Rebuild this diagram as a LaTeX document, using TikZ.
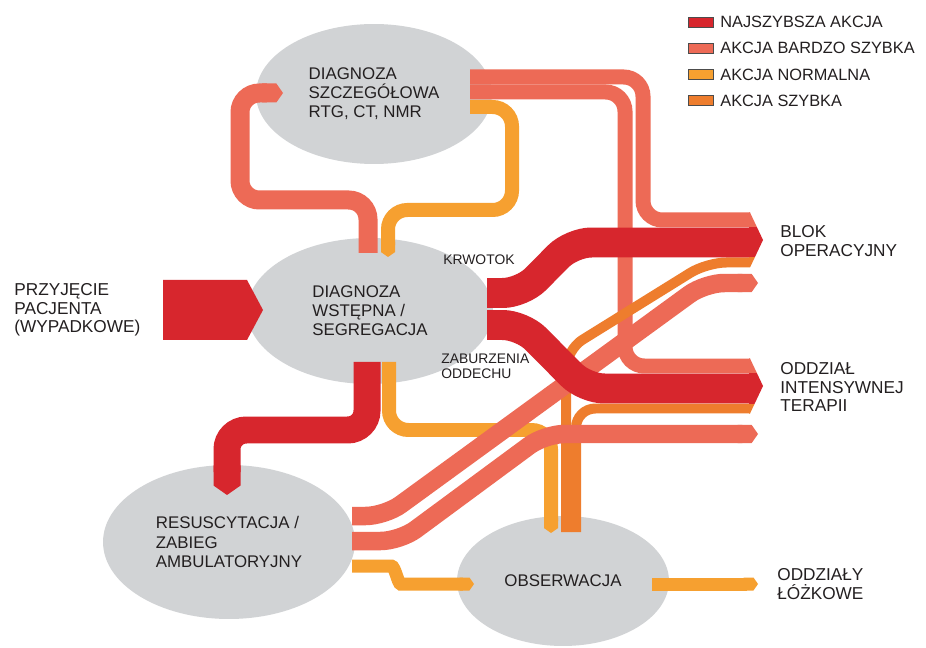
\documentclass[tikz,border=0pt]{standalone}
\usepackage{fontspec}
\setmainfont{Liberation Sans}
\usetikzlibrary{arrows.meta,shapes.geometric}

\definecolor{cRed}{RGB}{215,38,45}
\definecolor{cSalmon}{RGB}{237,106,86}
\definecolor{cNorm}{RGB}{246,160,48}
\definecolor{cFast}{RGB}{238,125,45}
\definecolor{cZone}{RGB}{209,211,213}
\definecolor{cText}{RGB}{35,31,32}

\begin{document}
\begin{tikzpicture}[x=0.02cm, y=-0.02cm,
	zone/.style={ellipse, fill=cZone, inner sep=0pt, align=left, text=cText, font=\fontsize{9.6}{10.9}\selectfont},
	lbl/.style={anchor=west, align=left, inner sep=0pt, text=cText, font=\fontsize{9.8}{10.4}\selectfont},
	small/.style={anchor=west, align=left, inner sep=0pt, text=cText, font=\fontsize{7.9}{8.6}\selectfont},
	flow/.style={draw=#1, rounded corners=11pt},
	headed/.style={-{Triangle Cap[length=0pt 0.35]}}]
	\fill[white] (0,0) rectangle (926,648);
	\useasboundingbox (0,0) rectangle (926,648);

	% zones
	\node[zone, minimum width=4.72cm, minimum height=2.8cm] (szcz) at (374,94) {DIAGNOZA\\SZCZEGÓŁOWA\\RTG, CT, NMR};
	\node[zone, minimum width=4.92cm, minimum height=2.92cm] (wst) at (370,311) {DIAGNOZA\\WSTĘPNA /\\SEGREGACJA};
	\node[zone, minimum width=5.04cm, minimum height=3.08cm] (resus) at (229,542) {RESUSCYTACJA /\\ZABIEG\\AMBULATORYJNY};
	\node[zone, minimum width=4.24cm, minimum height=2.6cm] (obs) at (563,581) {OBSERWACJA};

	% out of the detailed diagnosis
	\draw[flow=cSalmon, line width=0.3cm] (470,77) -- (643,77) -- (643,220) -- (750,220);
	\draw[flow=cSalmon, line width=0.3cm] (470,92) -- (625,92) -- (625,366) -- (750,366);
	% normal
	\draw[flow=cNorm, line width=0.28cm, headed] (470,107) -- (512,107) -- (512,210) -- (388,210) -- (388,257);
	\draw[flow=cNorm, line width=0.28cm, headed] (389,362) -- (389,430) -- (551,430) -- (551,533);
	\draw[flow=cNorm, line width=0.26cm, headed] (352,566) -- (372,566) .. controls (395,566) and (398,584) .. (420,584) -- (474,584);
	\draw[flow=cNorm, line width=0.26cm, headed] (652,584) -- (758,584);
	% fast
	\draw[flow=cFast, line width=0.2cm] (566,532) -- (566,350) -- (707,262.5) -- (750,262.5);
	\draw[flow=cFast, line width=0.2cm] (576,532) -- (576,408.5) -- (750,408.5);
	% out of resuscitation
	\draw[flow=cSalmon, line width=0.37cm, headed] (352,516) -- (385,516) -- (705,283) -- (758,283);
	\draw[flow=cSalmon, line width=0.37cm, headed] (352,541) -- (400,541) -- (545,434) -- (758,434);
	% fastest
	\draw[flow=cRed, line width=0.6cm] (487,293) -- (522,293) -- (572,242.5) -- (750,242.5);
	\draw[flow=cRed, line width=0.6cm] (487,325) -- (522,325) -- (585,388.5) -- (750,388.5);
	\draw[flow=cRed, line width=0.54cm, headed] (367,362) -- (367,430) -- (227,430) -- (227,495);
	\fill[cRed] (163,280) -- (247,280) -- (263,310) -- (247,340) -- (163,340) -- cycle;
	\draw[flow=cSalmon, line width=0.38cm, headed] (368,253) -- (368,200) -- (240,200) -- (240,93) -- (283,93);

	% joint heads
	\foreach \t in {212.5,358.5}{
		\begin{scope}
			\clip (749,\t) -- (750,\t) -- (763,{\t+27.5}) -- (750,{\t+55}) -- (749,{\t+55}) -- cycle;
			\fill[cSalmon] (749,\t) rectangle (765,{\t+15});
			\fill[cRed] (749,{\t+15}) rectangle (765,{\t+45});
			\fill[cFast] (749,{\t+45}) rectangle (765,{\t+55});
		\end{scope}
	}

	% labels
	\node[lbl] (przyj) at (14,310) {PRZYJĘCIE\\PACJENTA\\(WYPADKOWE)};
	\node[lbl] (blok) at (780,241) {BLOK\\OPERACYJNY};
	\node[lbl] (oit) at (780,387) {ODDZIAŁ\\INTENSYWNEJ\\TERAPII};
	\node[lbl] (lozk) at (777,584) {ODDZIAŁY\\ŁÓŻKOWE};
	\node[small] (krw) at (443,260) {KRWOTOK};
	\node[small] (zab) at (441,366) {ZABURZENIA\\ODDECHU};

	% legend
	\foreach \c/\t [count=\i] in {cRed/NAJSZYBSZA AKCJA, cSalmon/AKCJA BARDZO SZYBKA, cNorm/AKCJA NORMALNA, cFast/AKCJA SZYBKA}{
		\draw[fill=\c, draw=black!70, line width=0.5pt] (688,{22+26.3*(\i-1)-5}) rectangle ++(25,10);
		\node[lbl, font=\fontsize{9.3}{10}\selectfont] (leg\i) at (720,{22+26.3*(\i-1)}) {\t};
	}
\end{tikzpicture}
\end{document}
